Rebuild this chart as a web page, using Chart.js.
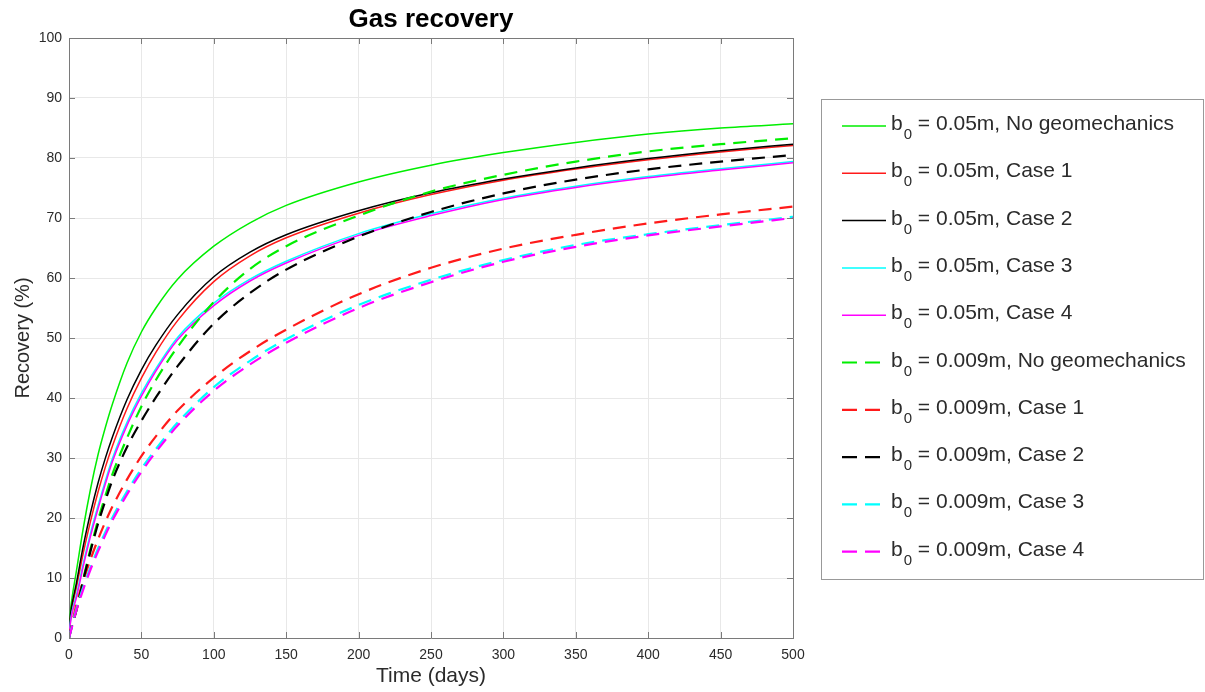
<!DOCTYPE html>
<html>
<head>
<meta charset="utf-8">
<title>Gas recovery</title>
<script src="https://cdn.jsdelivr.net/npm/chart.js@4.4.1/dist/chart.umd.min.js"></script>
<style>
  html, body { margin: 0; padding: 0; background: #fff; }
  #wrap { width: 1205px; height: 692px; }
</style>
</head>
<body>
<div id="wrap"><canvas id="recoveryChart" width="1205" height="692"></canvas></div>
<script>
// Gas recovery vs time

const days = [0, 1, 2, 5, 10, 15, 20, 25, 30, 40, 50, 60, 75, 100, 125, 150, 200, 250, 300, 350, 400, 450, 500];

// b0 = 0.05m
const wideNoGeo = [0, 4.5, 6.5, 11, 18.5, 25, 30.5, 35, 39, 45.8, 51, 55, 59.8, 65.3, 69.2, 72.1, 76, 78.8, 80.9, 82.6, 84, 85, 85.7];
const wideCase1 = [0, 3.3, 5, 8.3, 14.3, 19.6, 24.3, 28.4, 32, 38.2, 43.3, 47.6, 52.9, 59.4, 63.7, 66.7, 70.8, 73.9, 76.3, 78.15, 79.7, 81, 82.1];
const wideCase2 = [0, 3.8, 5.5, 9, 15.5, 21, 25.8, 29.9, 33.5, 39.7, 44.7, 48.8, 53.9, 60.2, 64.3, 67.2, 71.2, 74.2, 76.5, 78.35, 79.9, 81.2, 82.3];
const wideCase3 = [0, 2.8, 4.3, 7, 12.6, 17.6, 22, 26.1, 29.9, 35.9, 40.8, 44.9, 50.1, 55.8, 59.8, 62.8, 67.4, 70.7, 73.3, 75.3, 76.9, 78.2, 79.4];
const wideCase4 = [0, 2.5, 4, 6.6, 12.1, 17.1, 21.5, 25.6, 29.4, 35.4, 40.3, 44.5, 49.7, 55.4, 59.5, 62.5, 67.1, 70.4, 73.1, 75.1, 76.7, 78, 79.2];

// b0 = 0.009m
const narrowNoGeo = [0, 1, 2, 4.5, 10, 15, 19.6, 23.6, 27.3, 33.3, 38.6, 43, 48.5, 56, 61.5, 65.3, 70.4, 74.4, 77.2, 79.4, 81.1, 82.3, 83.3];
const narrowCase1 = [0, 1.2, 2.3, 5.5, 9.6, 13.2, 16.4, 19.3, 21.9, 26.4, 30.3, 33.6, 37.9, 43.4, 47.8, 51.4, 57.3, 61.7, 64.9, 67.2, 69.1, 70.6, 71.9];
const narrowCase2 = [0, 1, 2, 4.5, 9.8, 14.6, 19, 22.8, 26.3, 31.8, 36.2, 40.1, 45.3, 52.4, 57.5, 61.4, 66.9, 71, 74.1, 76.4, 78.1, 79.4, 80.5];
const narrowCase3 = [0, 1, 2, 4.8, 8.6, 11.9, 14.9, 17.6, 20.1, 24.4, 28.2, 31.5, 35.9, 41.8, 46.2, 49.8, 55.5, 59.7, 63, 65.5, 67.3, 68.8, 70.2];
const narrowCase4 = [0, 0.9, 1.8, 4.5, 8.2, 11.5, 14.4, 17.1, 19.6, 23.9, 27.7, 31, 35.4, 41.2, 45.6, 49.2, 55, 59.3, 62.7, 65.2, 67.1, 68.6, 70];

const seriesLabels = [
  ' = 0.05m, No geomechanics', ' = 0.05m, Case 1', ' = 0.05m, Case 2', ' = 0.05m, Case 3', ' = 0.05m, Case 4',
  ' = 0.009m, No geomechanics', ' = 0.009m, Case 1', ' = 0.009m, Case 2', ' = 0.009m, Case 3', ' = 0.009m, Case 4'
];
const seriesValues = [
  wideNoGeo, wideCase1, wideCase2, wideCase3, wideCase4,
  narrowNoGeo, narrowCase1, narrowCase2, narrowCase3, narrowCase4
];
const lineColors = ['#00ee00', '#ff1a1a', '#000000', '#00ffff', '#ff00ff'];

const xTicks = [0, 50, 100, 150, 200, 250, 300, 350, 400, 450, 500];
const yTicks = [0, 10, 20, 30, 40, 50, 60, 70, 80, 90, 100];

const axisColor = '#7a7a7a';
const textColor = '#2b2b2b';
const fontFamily = '"Liberation Sans", Helvetica, Arial, sans-serif';

const datasets = seriesValues.map(function(vals, i) {
  const dashed = i >= 5;
  return {
    label: 'b0' + seriesLabels[i],
    data: vals.map(function(v, k) { return { x: days[k], y: v }; }),
    borderColor: lineColors[i % 5],
    backgroundColor: lineColors[i % 5],
    borderWidth: dashed ? 2.2 : 1.5,
    borderDash: dashed ? [13, 8] : [],
    pointRadius: 0,
    cubicInterpolationMode: 'monotone',
    fill: false,
    order: seriesValues.length - i,
  };
});

// MATLAB-like title, frame, inward ticks and legend box
const framePlugin = {
  id: 'frame',
  afterDraw(chart) {
    const ctx = chart.ctx;
    const area = chart.chartArea;
    const xs = chart.scales.x;
    const ys = chart.scales.y;
    ctx.save();

    ctx.fillStyle = '#000';
    ctx.font = 'bold 26px ' + fontFamily;
    ctx.textAlign = 'center';
    ctx.textBaseline = 'alphabetic';
    ctx.fillText('Gas recovery', (area.left + area.right) / 2, 27);

    ctx.strokeStyle = axisColor;
    ctx.lineWidth = 1;
    ctx.beginPath();
    ctx.moveTo(area.left, area.top + 0.5);
    ctx.lineTo(area.right + 0.5, area.top + 0.5);
    ctx.lineTo(area.right + 0.5, area.bottom);
    xTicks.forEach(function(t) {
      const px = Math.round(xs.getPixelForValue(t)) + 0.5;
      ctx.moveTo(px, area.bottom);
      ctx.lineTo(px, area.bottom - 6);
      ctx.moveTo(px, area.top);
      ctx.lineTo(px, area.top + 6);
    });
    yTicks.forEach(function(t) {
      const py = Math.round(ys.getPixelForValue(t)) + 0.5;
      ctx.moveTo(area.left, py);
      ctx.lineTo(area.left + 6, py);
      ctx.moveTo(area.right, py);
      ctx.lineTo(area.right - 6, py);
    });
    ctx.stroke();

    // legend
    const boxL = 821.5, boxT = 99.5, boxR = 1203.5, boxB = 579.5;
    ctx.fillStyle = '#fff';
    ctx.fillRect(boxL, boxT, boxR - boxL, boxB - boxT);
    ctx.strokeStyle = '#999';
    ctx.strokeRect(boxL, boxT, boxR - boxL, boxB - boxT);

    ctx.textAlign = 'left';
    chart.data.datasets.forEach(function(ds, i) {
      const y = 126 + i * 47.3;
      ctx.strokeStyle = ds.borderColor;
      ctx.lineWidth = ds.borderWidth;
      ctx.setLineDash(i >= 5 ? [15, 8] : []);
      ctx.beginPath();
      ctx.moveTo(842, y);
      ctx.lineTo(886, y);
      ctx.stroke();
      ctx.setLineDash([]);

      ctx.fillStyle = textColor;
      ctx.font = '21px ' + fontFamily;
      let x = 891;
      ctx.fillText('b', x, y + 4);
      x += ctx.measureText('b').width + 1;
      ctx.font = '15px ' + fontFamily;
      ctx.fillText('0', x, y + 13);
      x += ctx.measureText('0').width;
      ctx.font = '21px ' + fontFamily;
      ctx.fillText(seriesLabels[i], x, y + 4);
    });
    ctx.restore();
  }
};

new Chart(document.getElementById('recoveryChart'), {
  type: 'line',
  data: { datasets: datasets },
  plugins: [framePlugin],
  options: {
    responsive: false,
    devicePixelRatio: 1,
    animation: false,
    layout: { padding: { left: 0, top: 38, right: 412, bottom: 0 } },
    plugins: {
      legend: { display: false },
      tooltip: { enabled: false },
      title: { display: false }
    },
    scales: {
      x: {
        type: 'linear',
        min: 0,
        max: 500,
        afterFit: function(scale) { scale.height = 54; },
        afterBuildTicks: function(scale) { scale.ticks = xTicks.map(function(v) { return { value: v }; }); },
        border: { color: axisColor, width: 1 },
        grid: { color: '#e8e8e8', drawTicks: false },
        ticks: {
          color: textColor,
          padding: 9,
          maxRotation: 0,
          font: { family: fontFamily, size: 14 },
        },
        title: {
          display: true,
          text: 'Time (days)',
          color: textColor,
          font: { family: fontFamily, size: 21 },
          padding: { top: 0, bottom: 3 },
        }
      },
      y: {
        min: 0,
        max: 100,
        afterFit: function(scale) { scale.width = 69; },
        afterBuildTicks: function(scale) { scale.ticks = yTicks.map(function(v) { return { value: v }; }); },
        border: { color: axisColor, width: 1 },
        grid: { color: '#e8e8e8', drawTicks: false },
        ticks: {
          color: textColor,
          padding: 7,
          font: { family: fontFamily, size: 14 },
        },
        title: {
          display: true,
          text: 'Recovery (%)',
          color: textColor,
          font: { family: fontFamily, size: 20 },
          padding: { top: 11, bottom: 0 },
        }
      }
    }
  }
});
</script>
</body>
</html>
